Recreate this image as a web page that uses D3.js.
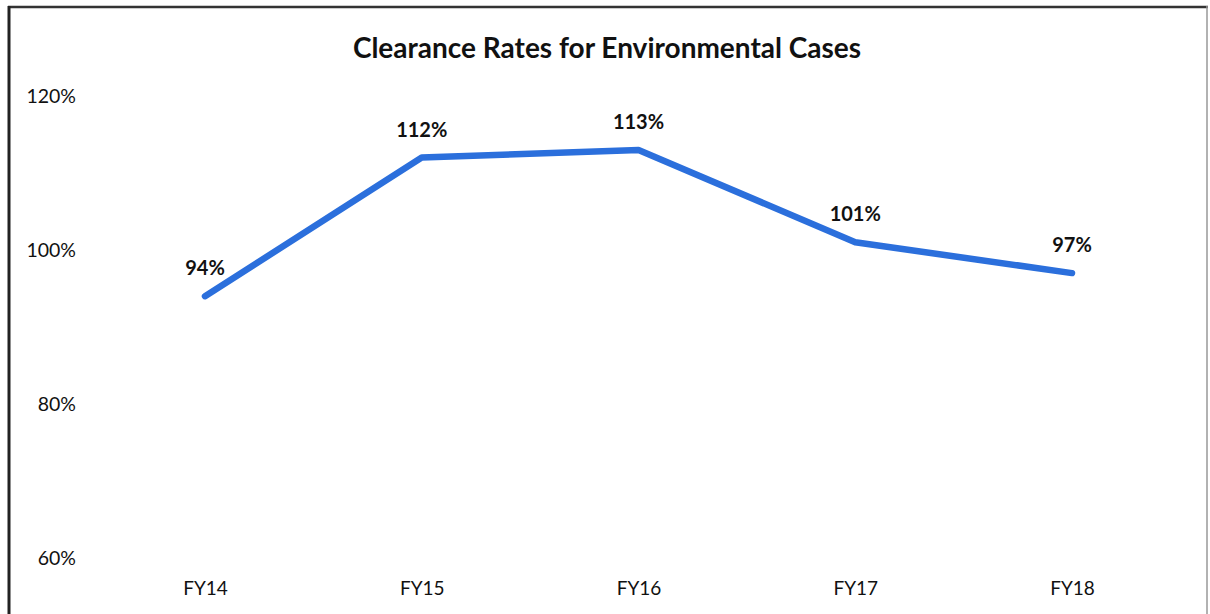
<!DOCTYPE html>
<html><head><meta charset="utf-8">
<script src="https://cdn.jsdelivr.net/npm/d3@7"></script>
<style>body{margin:0;background:#fff;}svg{display:block;font-family:Lato,"Open Sans",sans-serif;}</style>
</head><body>
<script>
const categories = ["FY14","FY15","FY16","FY17","FY18"];
const values = [94,112,113,101,97];
const labels = ["94%","112%","113%","101%","97%"];
const yTicks = [60,80,100,120];

const W=1210,H=614;
const svg=d3.select("body").append("svg").attr("width",W).attr("height",H);
svg.append("rect").attr("width",W).attr("height",H).attr("fill","#fff");
// border
svg.append("line").attr("x1",8).attr("x2",1208).attr("y1",7).attr("y2",7).attr("stroke","#333").attr("stroke-width",2.5);
svg.append("line").attr("x1",9).attr("x2",9).attr("y1",6).attr("y2",614).attr("stroke","#222").attr("stroke-width",3);
svg.append("line").attr("x1",1207).attr("x2",1207).attr("y1",6).attr("y2",614).attr("stroke","#999").attr("stroke-width",1.5);

const x=d3.scalePoint().domain(categories).range([205,1072]);
const y=d3.scaleLinear().domain([60,120]).range([558,96]);

svg.append("text").attr("x",607).attr("y",58).attr("text-anchor","middle")
  .attr("font-weight","bold").attr("font-size",28).attr("fill","#111").text("Clearance Rates for Environmental Cases");

const yAxis=d3.axisLeft(y).tickValues(yTicks).tickFormat(d=>d+"%").tickSize(0).tickPadding(0);
const gy=svg.append("g").attr("transform","translate(76,0)").call(yAxis);
gy.select(".domain").remove();
gy.selectAll("text").attr("font-size",19.5).attr("fill","#111").attr("font-family","Lato,sans-serif");

const xAxis=d3.axisBottom(x).tickSize(0).tickPadding(0);
const gx=svg.append("g").attr("transform","translate(0,581)").call(xAxis);
gx.select(".domain").remove();
gx.selectAll("text").attr("font-size",19).attr("fill","#111").attr("font-family","Lato,sans-serif");

const data=categories.map((c,i)=>({c,v:values[i],l:labels[i]}));
svg.append("path").datum(data).attr("fill","none").attr("stroke","#2b6fdc").attr("stroke-width",6.5)
  .attr("stroke-linecap","round").attr("stroke-linejoin","round")
  .attr("d",d3.line().x(d=>x(d.c)).y(d=>y(d.v)));

svg.selectAll(".dl").data(data).enter().append("text")
  .attr("x",d=>x(d.c)).attr("y",d=>y(d.v)-21).attr("text-anchor","middle")
  .attr("font-weight","bold").attr("font-size",20).attr("fill","#111").text(d=>d.l);
</script>
</body></html>
